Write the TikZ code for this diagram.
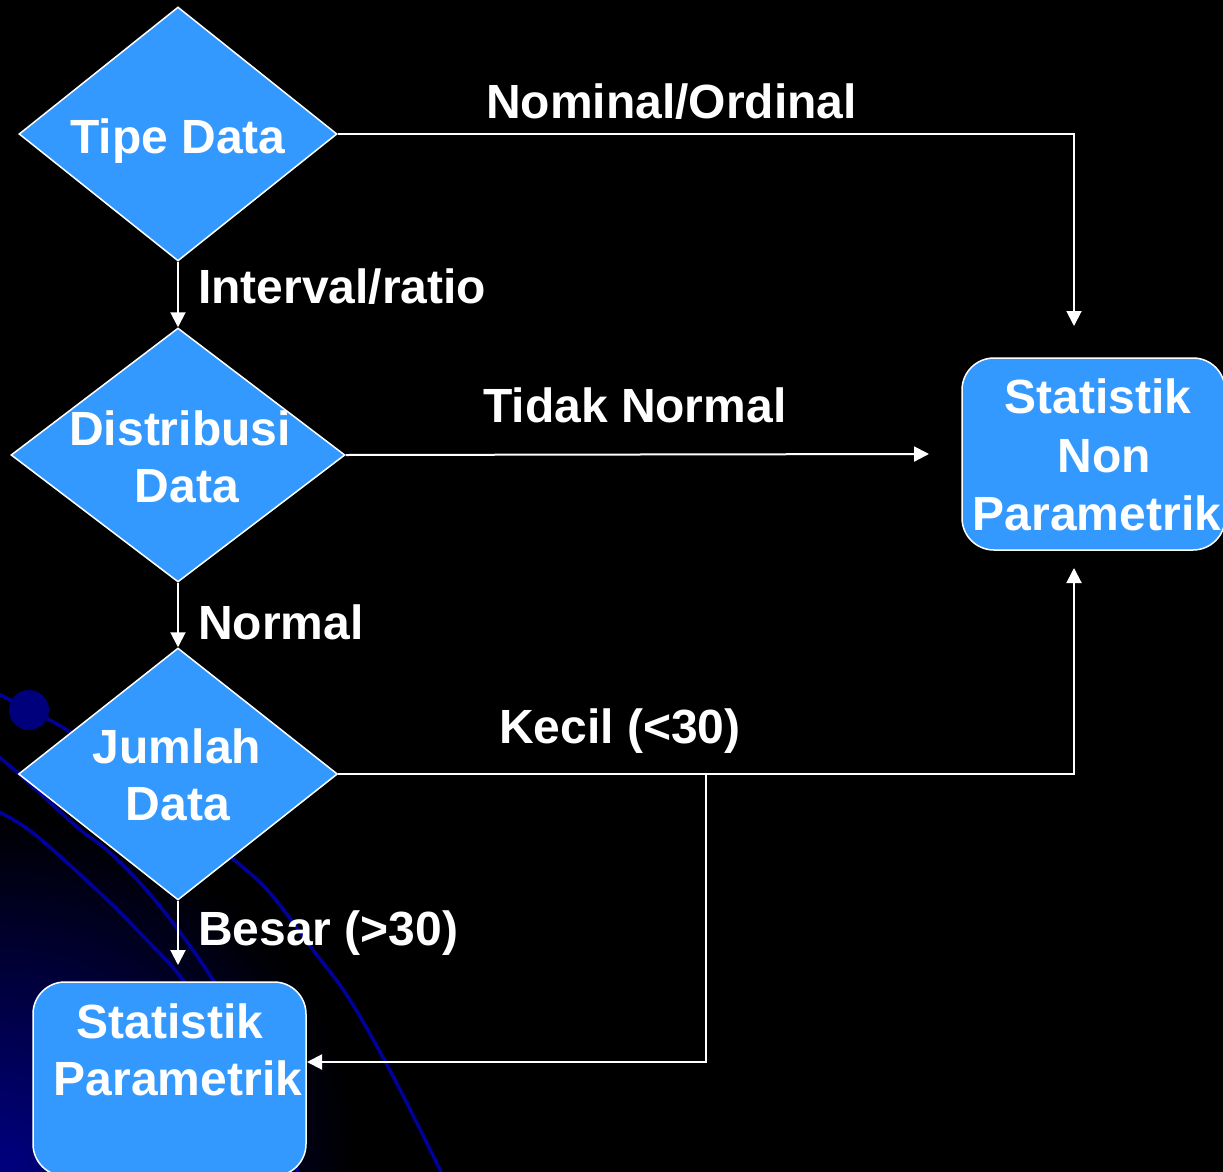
\documentclass[tikz,border=0pt]{standalone}
\usepackage{fontspec}
\setmainfont{Liberation Sans}
\usetikzlibrary{shapes.geometric,arrows.meta}
\definecolor{fillblue}{RGB}{51,153,255}
\definecolor{deco}{RGB}{0,0,155}
\definecolor{glow}{RGB}{0,0,125}
\definecolor{dotblue}{RGB}{0,0,125}
\begin{document}
\begin{tikzpicture}[x=1pt,y=-1pt,
  dec/.style={diamond, draw=white, line width=1.5pt, fill=fillblue, inner sep=0pt},
  sbox/.style={rectangle, rounded corners=32pt, draw=white, line width=1.5pt, fill=fillblue, inner sep=0pt},
  txt/.style={text=white, font=\fontsize{48}{57}\selectfont\bfseries, inner sep=0pt, anchor=base},
  lbl/.style={text=white, font=\fontsize{48}{57}\selectfont\bfseries, inner sep=0pt, anchor=base west},
  arr/.style={draw=white, line width=2pt, -{Triangle[length=15pt,width=15pt]}},
  decoline/.style={draw=deco, line width=3.5pt}
]
\fill[black] (0,0) rectangle (1223,1172);
\useasboundingbox (0,0) rectangle (1223,1172);
\begin{scope}
  \clip (0,0) rectangle (1223,1172);
  \foreach \i in {0,...,69}{
    \pgfmathsetmacro{\rr}{360-5*\i}
    \pgfmathsetmacro{\pp}{100*\i/69}
    \fill[glow!\pp!black] (0,1172) circle (\rr);
  }
  \draw[decoline] plot[smooth, tension=0.6] coordinates {(-5,692) (29,710) (70,732) (150,790) (232,858) (270,893) (313,950) (350,1000) (395,1080) (445,1180)};
  \draw[decoline] plot[smooth, tension=0.6] coordinates {(-5,754) (18,773) (77,827) (107,850) (140,883) (173,923) (213,980) (260,1060) (300,1180)};
  \draw[decoline] plot[smooth, tension=0.6] coordinates {(-5,810) (33,833) (100,893) (140,933) (183,980) (220,1040) (250,1180)};
  \fill[dotblue] (29,710) circle (20);
\end{scope}

\node[dec, minimum width=318pt, minimum height=254pt] (tipe) at (178,134) {};
\node[dec, minimum width=334pt, minimum height=254pt] (dist) at (178,455) {};
\node[dec, minimum width=319pt, minimum height=252pt] (jum) at (178,774) {};
\node[sbox, minimum width=273pt, minimum height=194pt] (par) at (169.5,1079) {};
\node[sbox, minimum width=263pt, minimum height=192pt] (nonp) at (1093.5,454) {};

\node[txt] (tipeT) at (178,153) {Tipe Data};
\node[txt] (distT1) at (180,445) {Distribusi};
\node[txt] (distT2) at (187,502) {Data};
\node[txt] (jumT1) at (177,763) {Jumlah};
\node[txt] (jumT2) at (178,820) {Data};
\node[txt] (parT1) at (170,1038) {Statistik};
\node[txt] (parT2) at (178,1095) {Parametrik};
\node[txt] (nonT1) at (1098,413) {Statistik};
\node[txt] (nonT2) at (1104,472) {Non};
\node[txt] (nonT3) at (1097,530) {Parametrik};

\node[lbl] (l1) at (486,118) {Nominal/Ordinal};
\node[lbl] (l2) at (198,303) {Interval/ratio};
\node[lbl] (l3) at (483,422) {Tidak Normal};
\node[lbl] (l4) at (198,639) {Normal};
\node[lbl] (l5) at (499,743) {Kecil (<30)};
\node[lbl] (l6) at (198,945) {Besar (>30)};

\coordinate (ntop) at (1074,326);
\coordinate (nleft) at (929,454);
\coordinate (nbot) at (1074,568);
\coordinate (pin) at (178,965);
\coordinate (split) at (706,774);
\coordinate (pin2) at (307,1062);

\draw[arr] (tipe.east) -| (ntop);
\draw[arr] (tipe.south) -- (dist.north);
\draw[arr] (dist.east) -- (nleft);
\draw[arr] (dist.south) -- (jum.north);
\draw[arr] (jum.east) -| (nbot);
\draw[arr] (jum.south) -- (pin);
\draw[arr] (split) |- (pin2);
\end{tikzpicture}
\end{document}
